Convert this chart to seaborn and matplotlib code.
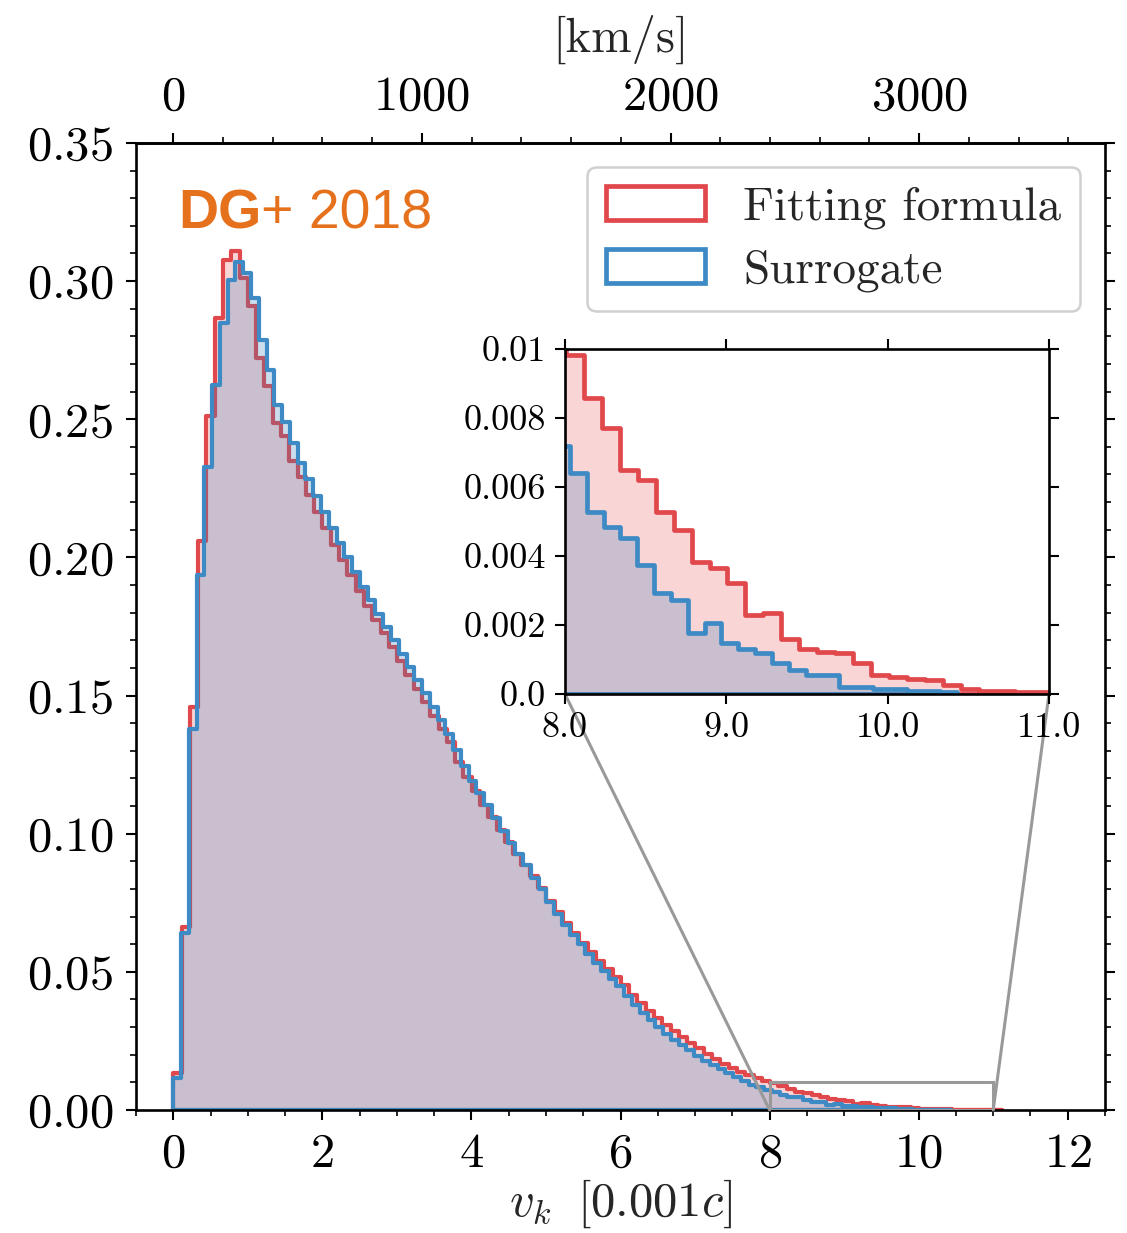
import matplotlib
matplotlib.use("Agg")
import numpy as np
import pandas as pd
import matplotlib.pyplot as plt
import seaborn as sns
from matplotlib.patches import Patch, Rectangle, ConnectionPatch
from matplotlib.ticker import AutoMinorLocator

# ---------------------------------------------------------------------------
# Kick-velocity distributions (probability density per bin, 100 bins each)
# ---------------------------------------------------------------------------
N_BINS = 100
FIT_VMIN, FIT_VMAX = 0.0, 11.12      # [0.001 c]
SUR_VMIN, SUR_VMAX = 0.0, 10.43      # [0.001 c]
KMS_PER_UNIT = 299.792458            # 0.001 c in km/s

fit_density = [
    0.0134, 0.0663, 0.146, 0.206, 0.251, 0.2865, 0.3076, 0.311, 0.301, 0.291,
    0.272, 0.262, 0.2485, 0.244, 0.235, 0.229, 0.2225, 0.2165, 0.2105, 0.2045,
    0.199, 0.1935, 0.188, 0.1825, 0.1775, 0.1725, 0.1675, 0.1625, 0.1575, 0.1525,
    0.1475, 0.1425, 0.138, 0.133, 0.126, 0.1205, 0.1155, 0.1105, 0.106, 0.1015,
    0.097, 0.0928, 0.0885, 0.0845, 0.0805, 0.0757, 0.0715, 0.0676, 0.0639, 0.0604,
    0.0571, 0.0539, 0.051, 0.0482, 0.0451, 0.0417, 0.0386, 0.0358, 0.0331, 0.0307,
    0.0284, 0.0263, 0.0243, 0.0223, 0.0203, 0.0185, 0.0168, 0.0153, 0.0139, 0.0126,
    0.0115, 0.0105, 0.00983, 0.00857, 0.0077, 0.00649, 0.0062, 0.00528, 0.00475, 0.00384,
    0.00364, 0.00321, 0.00229, 0.00234, 0.00161, 0.00132, 0.00123, 0.0012, 0.00089, 0.00055,
    0.0005, 0.00045, 0.00041, 0.00026, 0.00016, 0.0001, 0.0001, 0.00007, 0.00007, 0.00005,
]

sur_density = [
    0.0117, 0.064, 0.138, 0.1936, 0.2328, 0.2624, 0.2847, 0.3004, 0.307, 0.3028,
    0.2938, 0.2787, 0.2678, 0.2552, 0.2491, 0.2413, 0.234, 0.2283, 0.2223, 0.2163,
    0.2108, 0.2053, 0.2002, 0.1948, 0.1893, 0.1844, 0.1796, 0.1748, 0.17, 0.1652,
    0.1604, 0.1556, 0.1508, 0.1459, 0.1412, 0.1362, 0.1302, 0.1244, 0.1192, 0.1146,
    0.1102, 0.1058, 0.101, 0.0967, 0.0925, 0.0885, 0.0841, 0.0801, 0.0752, 0.071,
    0.0671, 0.0634, 0.0599, 0.0565, 0.0533, 0.0503, 0.0474, 0.0447, 0.0412, 0.038,
    0.0351, 0.0324, 0.0299, 0.0276, 0.0254, 0.0234, 0.0216, 0.0197, 0.0178, 0.0162,
    0.0147, 0.0132, 0.0119, 0.0106, 0.0092, 0.0082, 0.0072, 0.0064, 0.00528, 0.00485,
    0.00451, 0.00374, 0.00292, 0.00272, 0.00176, 0.00205, 0.00147, 0.00132, 0.00118, 0.00089,
    0.0007, 0.00055, 0.00055, 0.00021, 0.00021, 0.00016, 0.00016, 0.0001, 0.0001, 0.00006,
]

series_labels = ["Fitting formula", "Surrogate"]

main_xticks = [0, 2, 4, 6, 8, 10, 12]
main_yticks = [0.0, 0.05, 0.10, 0.15, 0.20, 0.25, 0.30, 0.35]
kms_ticks = [0, 1000, 2000, 3000]
zoom_xlim = (8.0, 11.0)
zoom_ylim = (0.0, 0.01)
inset_xticks = [8.0, 9.0, 10.0, 11.0]
inset_xticklabels = ["8.0", "9.0", "10.0", "11.0"]
inset_yticks = [0.0, 0.002, 0.004, 0.006, 0.008, 0.01]
inset_yticklabels = ["0.0", "0.002", "0.004", "0.006", "0.008", "0.01"]

# ---------------------------------------------------------------------------
# Style
# ---------------------------------------------------------------------------
sns.set_style("ticks")
plt.rcParams.update({
    "font.family": "serif",
    "font.serif": ["cmr10"],
    "mathtext.fontset": "cm",
    "axes.formatter.use_mathtext": True,
    "axes.linewidth": 1.9,
    "axes.edgecolor": "black",
    "xtick.color": "black",
    "ytick.color": "black",
})

FIT_LINE = "#e0484c"
SUR_LINE = "#3e8ac4"
FIT_FILL = "#e41a1c"
SUR_FILL = "#377eb8"
GREY = "#999999"
ORANGE = "#e6711d"


def make_frame(density, vmin, vmax):
    edges = np.linspace(vmin, vmax, N_BINS + 1)
    centers = 0.5 * (edges[:-1] + edges[1:])
    return pd.DataFrame({"v": centers, "density": density})


fit_df = make_frame(fit_density, FIT_VMIN, FIT_VMAX)
sur_df = make_frame(sur_density, SUR_VMIN, SUR_VMAX)


def draw_histograms(axis, lw):
    sns.histplot(data=fit_df, x="v", weights="density", bins=N_BINS,
                 binrange=(FIT_VMIN, FIT_VMAX),
                 stat="count", element="step", fill=True, color=FIT_FILL,
                 alpha=0.18, edgecolor=FIT_LINE, linewidth=lw, ax=axis)
    sns.histplot(data=sur_df, x="v", weights="density", bins=N_BINS,
                 binrange=(SUR_VMIN, SUR_VMAX),
                 stat="count", element="step", fill=True, color=SUR_FILL,
                 alpha=0.25, edgecolor=SUR_LINE, linewidth=lw, ax=axis)
    axis.set_xlabel("")
    axis.set_ylabel("")


fig = plt.figure(figsize=(11.27, 12.33), dpi=100)
ax = fig.add_axes([0.1207, 0.0998, 0.8598, 0.7843])
draw_histograms(ax, 3.0)

ax.set_xlim(-0.5, 12.5)
ax.set_ylim(0, 0.35)
ax.set_xticks(main_xticks)
ax.set_yticks(main_yticks)
ax.xaxis.set_minor_locator(AutoMinorLocator(4))
ax.yaxis.set_minor_locator(AutoMinorLocator(5))
ax.tick_params(which="both", direction="out", top=False, right=True,
               labelsize=35)
ax.tick_params(which="major", length=7.5, width=1.5, pad=9)
ax.tick_params(which="minor", length=4, width=1.2)
ax.set_xlabel(r"$v_k\;\;[0.001c]$", fontsize=35, labelpad=0)

# upper axis in km/s
secax = ax.secondary_xaxis(
    "top", functions=(lambda v: v * KMS_PER_UNIT, lambda k: k / KMS_PER_UNIT))
secax.set_xticks(kms_ticks)
secax.xaxis.set_minor_locator(AutoMinorLocator(5))
secax.tick_params(which="both", direction="out", labelsize=35)
secax.tick_params(which="major", length=7.5, width=1.5, pad=9)
secax.tick_params(which="minor", length=4, width=1.2)
secax.set_xlabel("[km/s]", fontsize=35, labelpad=17)

# legend
handles = [Patch(facecolor="white", edgecolor=FIT_LINE, linewidth=3.4),
           Patch(facecolor="white", edgecolor=SUR_LINE, linewidth=3.4)]
leg = ax.legend(handles, series_labels, loc="upper right",
                bbox_to_anchor=(0.9742, 0.9752), borderaxespad=0,
                fontsize=34, handlelength=2.1, handleheight=0.75,
                handletextpad=0.8, labelspacing=0.42, borderpad=0.4,
                frameon=True, fancybox=True, framealpha=1)
leg.get_frame().set_edgecolor("#d0d0d0")
leg.get_frame().set_linewidth(1.8)

# tag
tag = ax.text(0.0433, 0.912, "DG", transform=ax.transAxes, fontsize=40,
              fontweight="bold", family="Liberation Sans", color=ORANGE,
              ha="left", va="baseline")
ax.annotate("+ 2018", xy=(1, 0), xycoords=tag, fontsize=40,
            family="Liberation Sans", color=ORANGE, ha="left", va="bottom")

# inset zoom on the tail
axins = fig.add_axes([0.5013, 0.4371, 0.4295, 0.2798])
axins.set_facecolor("white")
draw_histograms(axins, 3.4)
axins.set_xlim(*zoom_xlim)
axins.set_ylim(*zoom_ylim)
axins.set_xticks(inset_xticks)
axins.set_xticklabels(inset_xticklabels)
axins.set_yticks(inset_yticks)
axins.set_yticklabels(inset_yticklabels)
axins.minorticks_off()
axins.tick_params(which="major", direction="out", top=True, right=True,
                  length=7.5, width=1.5, labelsize=26, pad=6)
for sp in axins.spines.values():
    sp.set_linewidth(1.9)

x0, x1 = zoom_xlim
y0, y1 = zoom_ylim
ax.add_patch(Rectangle((x0, y0), x1 - x0, y1 - y0, fill=False,
                       edgecolor=GREY, linewidth=2.2, zorder=5))
for xc in (x0, x1):
    con = ConnectionPatch(xyA=(xc, y0), coordsA=ax.transData,
                          xyB=(xc, y0), coordsB=axins.transData,
                          color=GREY, linewidth=2.2, zorder=5)
    con.set_clip_on(False)
    ax.add_artist(con)

fig.savefig("out.png", dpi=100)
